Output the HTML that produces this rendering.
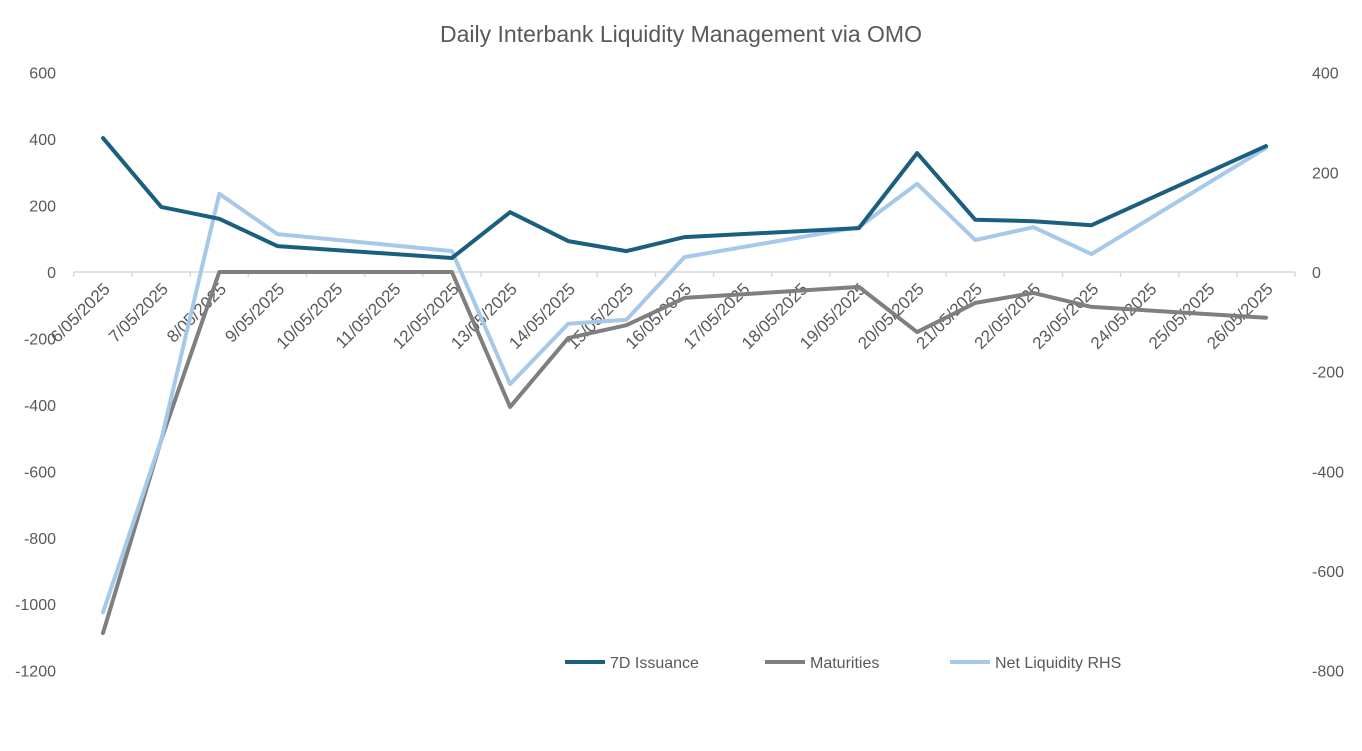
<!DOCTYPE html>
<html><head><meta charset="utf-8"><style>
body{margin:0;background:#fff;font-family:"Liberation Sans",sans-serif;}
svg text{font-family:"Liberation Sans",sans-serif;fill:#595959;}
</style></head><body>
<svg id="chart" width="1362" height="746">
<text x="681" y="42" text-anchor="middle" font-size="23">Daily Interbank Liquidity Management via OMO</text>
<g id="axes"></g><g id="series"></g><g id="legend"></g>
</svg>
<script>
const categories=["6/05/2025","7/05/2025","8/05/2025","9/05/2025","10/05/2025","11/05/2025","12/05/2025","13/05/2025","14/05/2025","15/05/2025","16/05/2025","17/05/2025","18/05/2025","19/05/2025","20/05/2025","21/05/2025","22/05/2025","23/05/2025","24/05/2025","25/05/2025","26/05/2025"];
const issuance=[403,196,160,78,null,null,42,180,93,63,105,null,null,132,358,157,153,141,null,null,379];
const maturities=[-1087,-506,0,0,null,null,0,-406,-199,-160,-78,null,null,-45,-181,-93,-63,-105,null,null,-138];
const netLiquidity=[-683,-337,157,76,null,null,42,-225,-104,-96,30,null,null,90,177,64,90,36,null,null,249];
const leftTicks=[600,400,200,0,-200,-400,-600,-800,-1000,-1200];
const rightTicks=[400,200,0,-200,-400,-600,-800];
const NS="http://www.w3.org/2000/svg";
const yL=v=>272-(v)*(598/1800);
const yR=v=>272-(v)*(598/1200);
const step=1163/20;
const xC=i=>103+i*step;
function mk(tag,attrs,parent,txt){const e=document.createElementNS(NS,tag);for(const k in attrs)e.setAttribute(k,attrs[k]);if(txt!==undefined)e.textContent=txt;parent.appendChild(e);return e;}
const axes=document.getElementById('axes');
const za=mk('line',{x1:xC(0)-step/2,x2:xC(20)+step/2,y1:yL(0),y2:yL(0),stroke:'#d9d9d9','stroke-width':1.5},axes);


for(let i=0;i<=categories.length;i++){const tm=mk('line',{x1:xC(i)-step/2,x2:xC(i)-step/2,y1:yL(0),y2:yL(0)+5,stroke:'#d9d9d9','stroke-width':1.5},axes);

}
leftTicks.forEach(v=>{const t=mk('text',{x:56,y:yL(v)+6,'text-anchor':'end','font-size':16},axes,String(v));

});
rightTicks.forEach(v=>{const t=mk('text',{x:1312,y:yR(v)+6,'text-anchor':'start','font-size':16},axes,String(v));

});
categories.forEach((c,i)=>{const x=xC(i)+8,y=290;const t=mk('text',{x:x,y:y,'text-anchor':'end','font-size':17,transform:`rotate(-45 ${x} ${y})`},axes,c);

});
const series=document.getElementById('series');
function draw(arr,yf,color,name){const pts=[];arr.forEach((v,i)=>{if(v!==null)pts.push(xC(i).toFixed(1)+','+yf(v).toFixed(1));});
const p=mk('polyline',{points:pts.join(' '),fill:'none',stroke:color,'stroke-width':4,'stroke-linejoin':'round','stroke-linecap':'round'},series);

}
draw(issuance,yL,'#1b5f7e','issuance-line');
draw(maturities,yL,'#7f7f7f','maturities-line');
draw(netLiquidity,yR,'#a6c9ea','net-liquidity-line');
series.appendChild(series.firstChild);
const lg=document.getElementById('legend');
[["7D Issuance",'#1b5f7e',565],["Maturities",'#7f7f7f',765],["Net Liquidity RHS",'#a6c9ea',950]].forEach(([n,c,x])=>{
const g=mk('g',{},lg);


mk('line',{x1:x,x2:x+40,y1:662,y2:662,stroke:c,'stroke-width':4},g);
mk('text',{x:x+45,y:668,'font-size':16},g,n);});
</script>
</body></html>
